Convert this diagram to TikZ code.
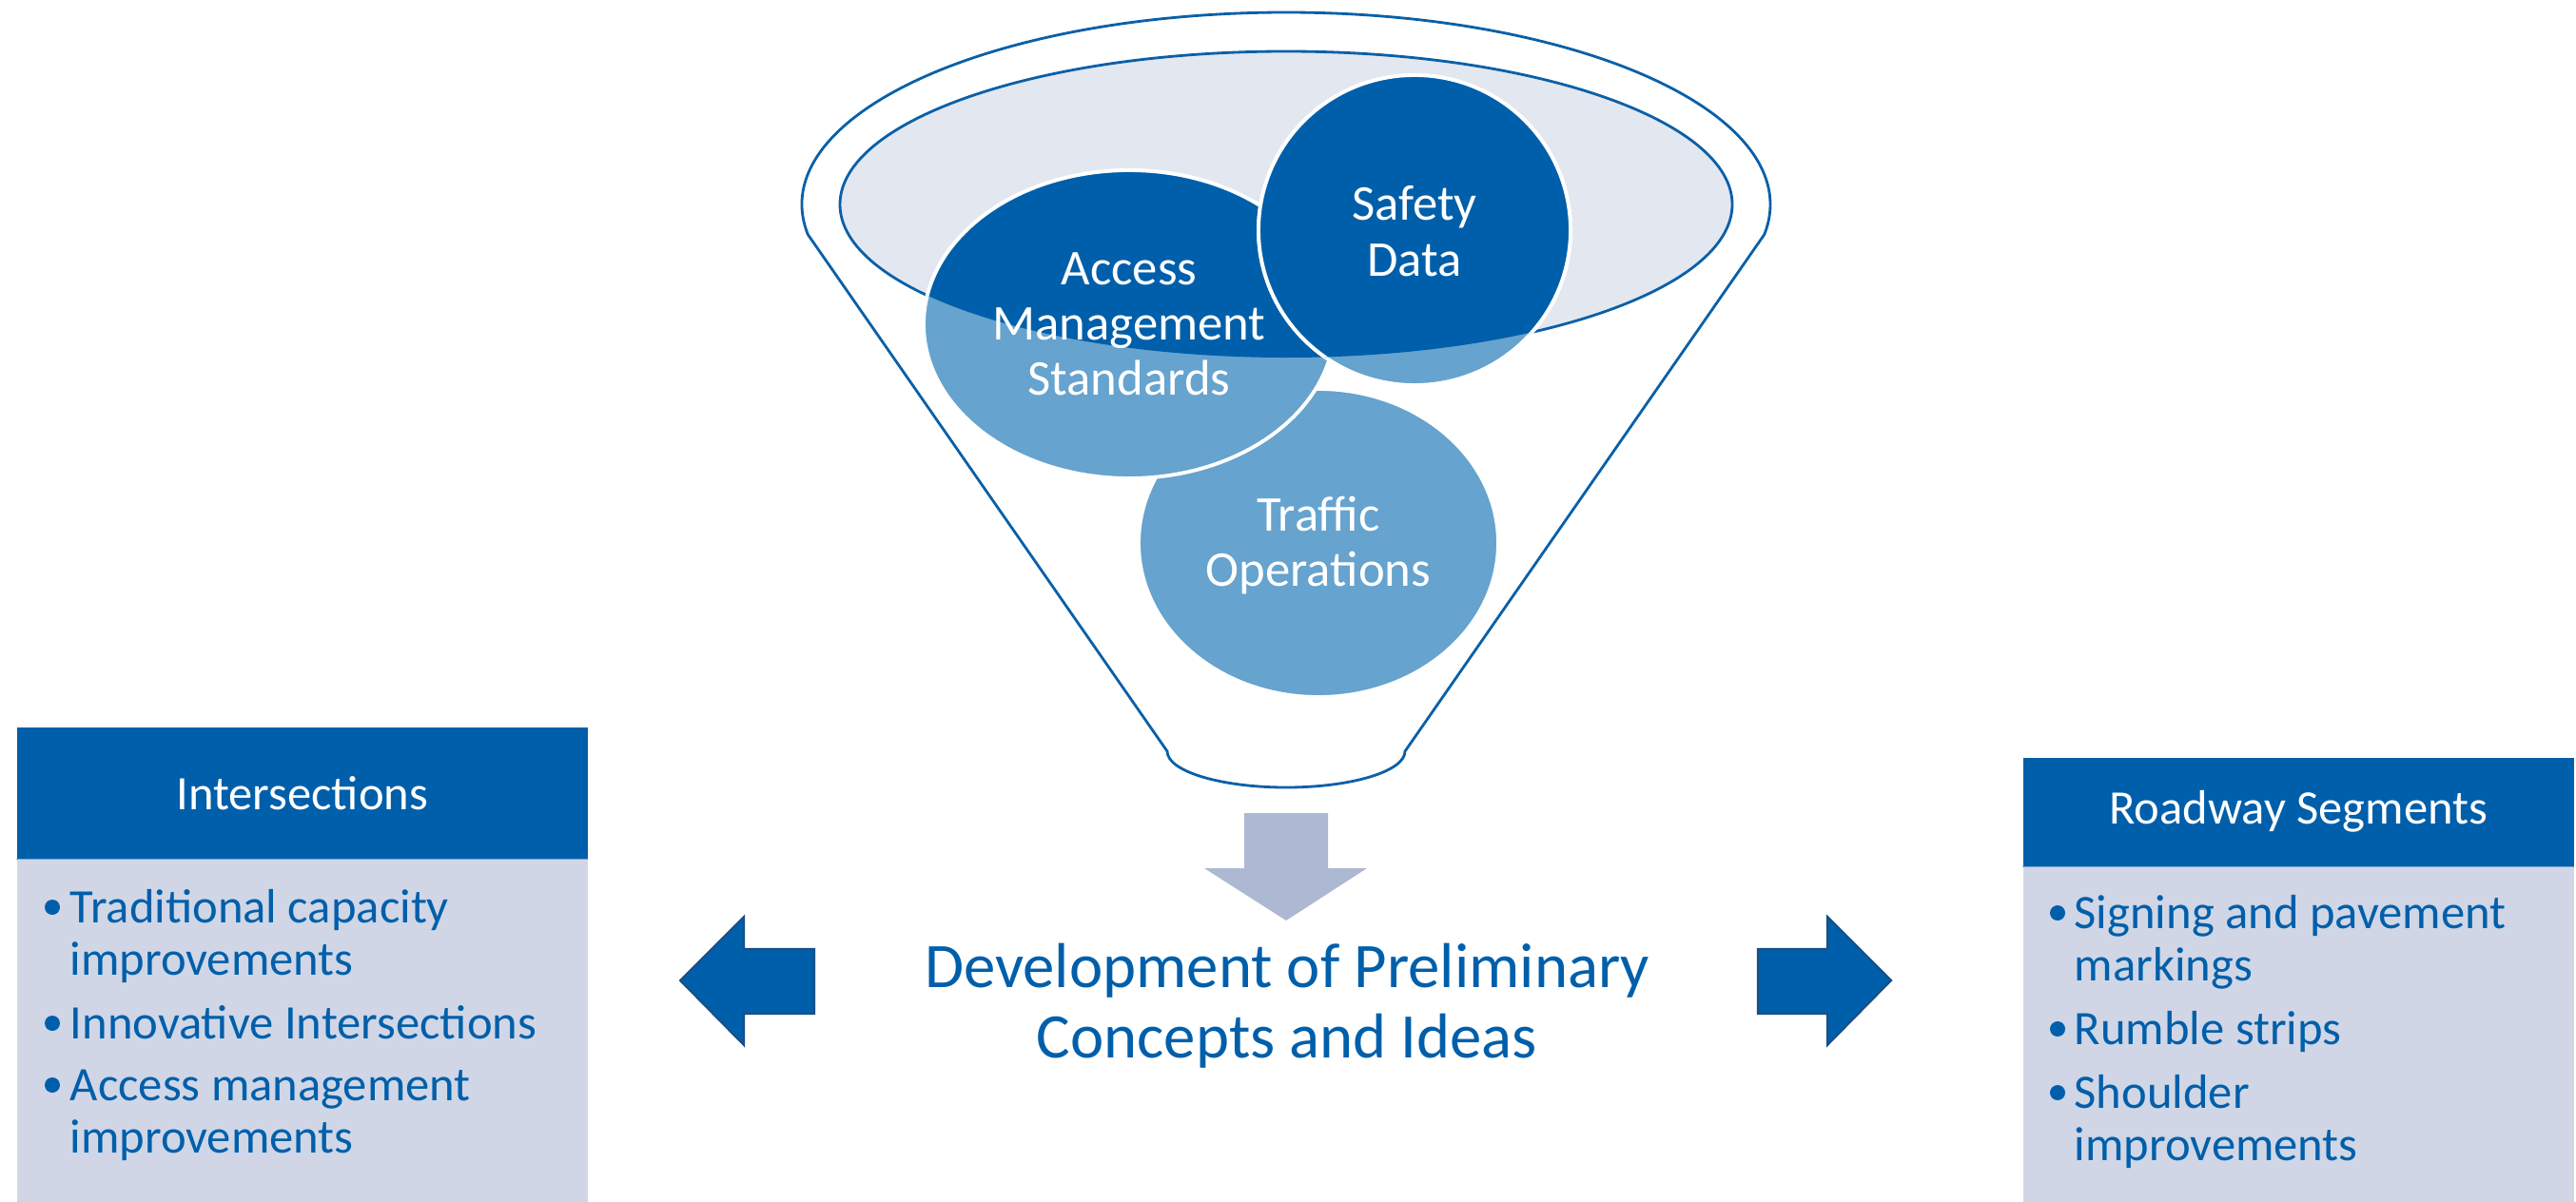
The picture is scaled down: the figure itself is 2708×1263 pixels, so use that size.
\documentclass[tikz,border=0pt]{standalone}
\usepackage{fontspec}
\setmainfont{Carlito}
\definecolor{dblue}{HTML}{005FAA}
\definecolor{lblue}{HTML}{66A3CE}
\definecolor{rimfill}{HTML}{E3E7F0}
\definecolor{downgray}{HTML}{ADB8D3}
\definecolor{boxbody}{HTML}{D0D6E6}
\definecolor{arrowedge}{HTML}{1A4F85}
\definecolor{funnelline}{HTML}{0A60A8}
\definecolor{sepline}{HTML}{7FA3CF}
\begin{document}
\begin{tikzpicture}[x=0.1mm,y=-0.1mm,
  funnel/.style={draw=funnelline, line width=0.8pt},
  circ/.style={draw=white, line width=1.1pt},
  ctext/.style={text=white, inner sep=0pt, anchor=base, font=\fontsize{15}{16.5}\selectfont},
  hdr/.style={fill=dblue, text=white, inner sep=0pt, anchor=north west, font=\fontsize{14.4}{14.8}\selectfont},
  body/.style={fill=boxbody, inner sep=0pt, anchor=north west},
  btext/.style={text=dblue, inner sep=0pt, anchor=base west, font=\fontsize{14.4}{14.8}\selectfont},
  bulletdot/.style={circle, fill=dblue, inner sep=0pt, minimum size=1.6mm},
  bigtext/.style={text=dblue, inner sep=0pt, anchor=base, font=\fontsize{19}{21}\selectfont},
  sidearrow/.style={fill=dblue, draw=arrowedge, line width=0.6pt, line join=miter},
  downarrow/.style={fill=downgray}
]
\useasboundingbox (0,0) rectangle (2708,1263);

% ---------- funnel ----------
\coordinate (fc) at (1352,215);
\coordinate (fbl) at (1227,790);
\coordinate (fbr) at (1477,790);
\draw[funnel] (fbl) -- ([shift={(189:50.9mm and 20.2mm)}]fc)
  arc[start angle=189, end angle=-9, x radius=50.9mm, y radius=20.2mm]
  -- (fbr) arc[start angle=0, end angle=-180, x radius=12.5mm, y radius=3.8mm] -- cycle;
\filldraw[funnel, fill=rimfill] (fc) ellipse[x radius=46.9mm, y radius=16.1mm];

\coordinate (traf) at (1386,571);
\coordinate (ams) at (1187,341);
\coordinate (saf) at (1487,242);
\foreach \c/\rx/\ry in {traf/18.9mm/16.2mm, ams/21.6mm/16.2mm, saf/16.4mm/16.3mm}{
  \filldraw[circ, fill=lblue] (\c) ellipse[x radius=\rx, y radius=\ry];
  \begin{scope}
    \clip (fc) ellipse[x radius=46.9mm, y radius=16.1mm];
    \filldraw[circ, fill=dblue] (\c) ellipse[x radius=\rx, y radius=\ry];
  \end{scope}
}
\node[ctext] (ams1) at (1187,299) {Access};
\node[ctext] (ams2) at (1187,357) {Management};
\node[ctext] (ams3) at (1187,415) {Standards};
\node[ctext] (saf1) at (1487,231) {Safety};
\node[ctext] (saf2) at (1487,290) {Data};
\node[ctext] (traf1) at (1386,558) {Traffic};
\node[ctext] (traf2) at (1386,616) {Operations};

% ---------- arrows ----------
\fill[downarrow] (1308,855) -- (1396,855) -- (1396,913) -- (1437,913) -- (1352,968)
  -- (1266,913) -- (1308,913) -- cycle;
\filldraw[sidearrow] (715,1031) -- (782,964) -- (782,998) -- (856,998) -- (856,1066)
  -- (782,1066) -- (782,1099) -- cycle;
\filldraw[sidearrow] (1988,1031) -- (1921,964) -- (1921,998) -- (1848,998) -- (1848,1066)
  -- (1921,1066) -- (1921,1099) -- cycle;

\node[bigtext] (dev1) at (1353,1038) {Development of Preliminary};
\node[bigtext] (dev2) at (1353,1112) {Concepts and Ideas};

% ---------- left box ----------
\node[body, minimum width=60mm, minimum height=36.1mm] (lbody) at (17,902) {};
\node[hdr, minimum width=60mm, minimum height=13.8mm] (lhead) at (17,764) {Intersections};
\draw[sepline, line width=0.5pt] (lhead.south west) -- (lhead.south east);
\node[bulletdot] (lb1) at (55,954) {};
\node[btext] (l1a) at (73,970) {Traditional capacity};
\node[btext] (l1b) at (73,1025) {improvements};
\node[bulletdot] (lb2) at (55,1076) {};
\node[btext] (l2a) at (73,1092) {Innovative Intersections};
\node[bulletdot] (lb3) at (55,1141) {};
\node[btext] (l3a) at (73,1157) {Access management};
\node[btext] (l3b) at (73,1212) {improvements};

% ---------- right box ----------
\node[body, minimum width=57.9mm, minimum height=35.3mm] (rbody) at (2126,910) {};
\node[hdr, minimum width=57.9mm, minimum height=11.4mm] (rhead) at (2126,796) {Roadway Segments};
\draw[sepline, line width=0.5pt] (rhead.south west) -- (rhead.south east);
\node[bulletdot] (rb1) at (2163,960) {};
\node[btext] (r1a) at (2180,976) {Signing and pavement};
\node[btext] (r1b) at (2180,1031) {markings};
\node[bulletdot] (rb2) at (2163,1082) {};
\node[btext] (r2a) at (2180,1098) {Rumble strips};
\node[bulletdot] (rb3) at (2163,1149) {};
\node[btext] (r3a) at (2180,1165) {Shoulder};
\node[btext] (r3b) at (2180,1220) {improvements};
\end{tikzpicture}
\end{document}
